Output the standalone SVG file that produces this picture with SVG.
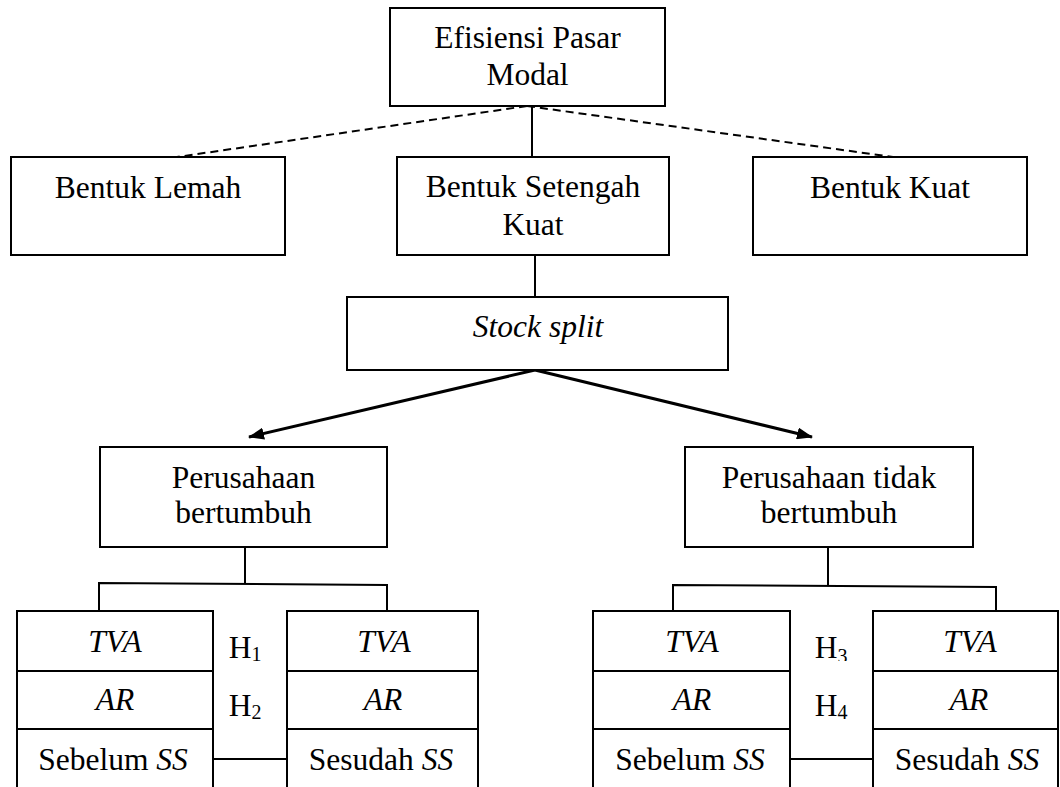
<svg xmlns="http://www.w3.org/2000/svg" width="1060" height="787" viewBox="0 0 1060 787">
<style>
.box{fill:#fff;stroke:#000;stroke-width:2}
.ln{fill:none;stroke:#000;stroke-width:2}
.dash{fill:none;stroke:#000;stroke-width:2;stroke-dasharray:8 5}
.arr{fill:none;stroke:#000;stroke-width:3}
.t{font-family:"Liberation Serif","Times New Roman",serif;font-size:31.5px;text-anchor:middle;fill:#000}
.i{font-style:italic}
.sub{font-size:20px}
</style>
<defs>
<marker id="ah" markerUnits="userSpaceOnUse" markerWidth="16" markerHeight="12" refX="15" refY="6" orient="auto">
<path d="M0,0 L16,6 L0,12 z" fill="#000"/>
</marker>
<clipPath id="h3clip"><rect x="800" y="620" width="60" height="41"/></clipPath>
</defs>
<rect width="1060" height="787" fill="#fff"/>

<g id="connectors">
<line class="dash" x1="527" y1="106" x2="177" y2="157"/>
<line class="dash" x1="527" y1="106" x2="893" y2="157"/>
<line class="ln" x1="532" y1="106" x2="532" y2="157"/>
<line class="ln" x1="535" y1="255" x2="535" y2="297"/>
<line class="arr" x1="535" y1="370" x2="249" y2="437" marker-end="url(#ah)"/>
<line class="arr" x1="535" y1="370" x2="812" y2="437" marker-end="url(#ah)"/>
<line class="ln" x1="245" y1="547" x2="245" y2="584"/>
<polyline class="ln" points="99,611 99,583 387,585 387,611"/>
<line class="ln" x1="828" y1="547" x2="828" y2="586"/>
<polyline class="ln" points="673,611 673,585 996,587 996,611"/>
<line class="ln" x1="213" y1="759" x2="287" y2="759"/>
<line class="ln" x1="790" y1="759" x2="873" y2="759"/>
</g>

<g id="efisiensi">
<rect class="box" x="390" y="8" width="275" height="98"/>
<text class="t" x="527.5" y="48">Efisiensi Pasar</text>
<text class="t" x="527.5" y="85">Modal</text>
</g>

<g id="lemah">
<rect class="box" x="11" y="157" width="274" height="98"/>
<text class="t" x="148" y="198">Bentuk Lemah</text>
</g>

<g id="setengah">
<rect class="box" x="397" y="157" width="272" height="98"/>
<text class="t" x="533" y="197">Bentuk Setengah</text>
<text class="t" x="533" y="235">Kuat</text>
</g>

<g id="kuat">
<rect class="box" x="753" y="157" width="274" height="98"/>
<text class="t" x="890" y="198">Bentuk Kuat</text>
</g>

<g id="stocksplit">
<rect class="box" x="347" y="297" width="381" height="73"/>
<text class="t i" x="538" y="337">Stock split</text>
</g>

<g id="bertumbuh">
<rect class="box" x="100" y="447" width="287" height="100"/>
<text class="t" x="243.5" y="488">Perusahaan</text>
<text class="t" x="243.5" y="523">bertumbuh</text>
</g>

<g id="tidakbertumbuh">
<rect class="box" x="685" y="447" width="288" height="100"/>
<text class="t" x="829" y="488">Perusahaan tidak</text>
<text class="t" x="829" y="523">bertumbuh</text>
</g>

<g id="table1">
<rect class="box" x="17" y="611" width="196" height="200"/>
<line class="ln" x1="17" y1="671" x2="213" y2="671"/>
<line class="ln" x1="17" y1="729" x2="213" y2="729"/>
<text class="t i" x="115" y="652">TVA</text>
<text class="t i" x="115" y="710">AR</text>
<text class="t" x="113" y="770">Sebelum <tspan class="i">SS</tspan></text>
</g>

<g id="table2">
<rect class="box" x="287" y="611" width="191" height="200"/>
<line class="ln" x1="287" y1="671" x2="478" y2="671"/>
<line class="ln" x1="287" y1="729" x2="478" y2="729"/>
<text class="t i" x="384" y="652">TVA</text>
<text class="t i" x="383" y="710">AR</text>
<text class="t" x="381" y="770">Sesudah <tspan class="i">SS</tspan></text>
</g>

<g id="h1h2">
<text class="t" x="245" y="658">H<tspan class="sub" dy="3">1</tspan></text>
<text class="t" x="245" y="716">H<tspan class="sub" dy="3">2</tspan></text>
</g>

<g id="table3">
<rect class="box" x="593" y="611" width="197" height="200"/>
<line class="ln" x1="593" y1="671" x2="790" y2="671"/>
<line class="ln" x1="593" y1="729" x2="790" y2="729"/>
<text class="t i" x="692" y="652">TVA</text>
<text class="t i" x="692" y="710">AR</text>
<text class="t" x="690" y="770">Sebelum <tspan class="i">SS</tspan></text>
</g>

<g id="table4">
<rect class="box" x="873" y="611" width="185" height="200"/>
<line class="ln" x1="873" y1="671" x2="1058" y2="671"/>
<line class="ln" x1="873" y1="729" x2="1058" y2="729"/>
<text class="t i" x="970" y="652">TVA</text>
<text class="t i" x="969" y="710">AR</text>
<text class="t" x="967" y="770">Sesudah <tspan class="i">SS</tspan></text>
</g>

<g id="h3h4">
<text class="t" x="831" y="658" clip-path="url(#h3clip)">H<tspan class="sub" dy="5">3</tspan></text>
<text class="t" x="831" y="716">H<tspan class="sub" dy="3">4</tspan></text>
</g>
</svg>
